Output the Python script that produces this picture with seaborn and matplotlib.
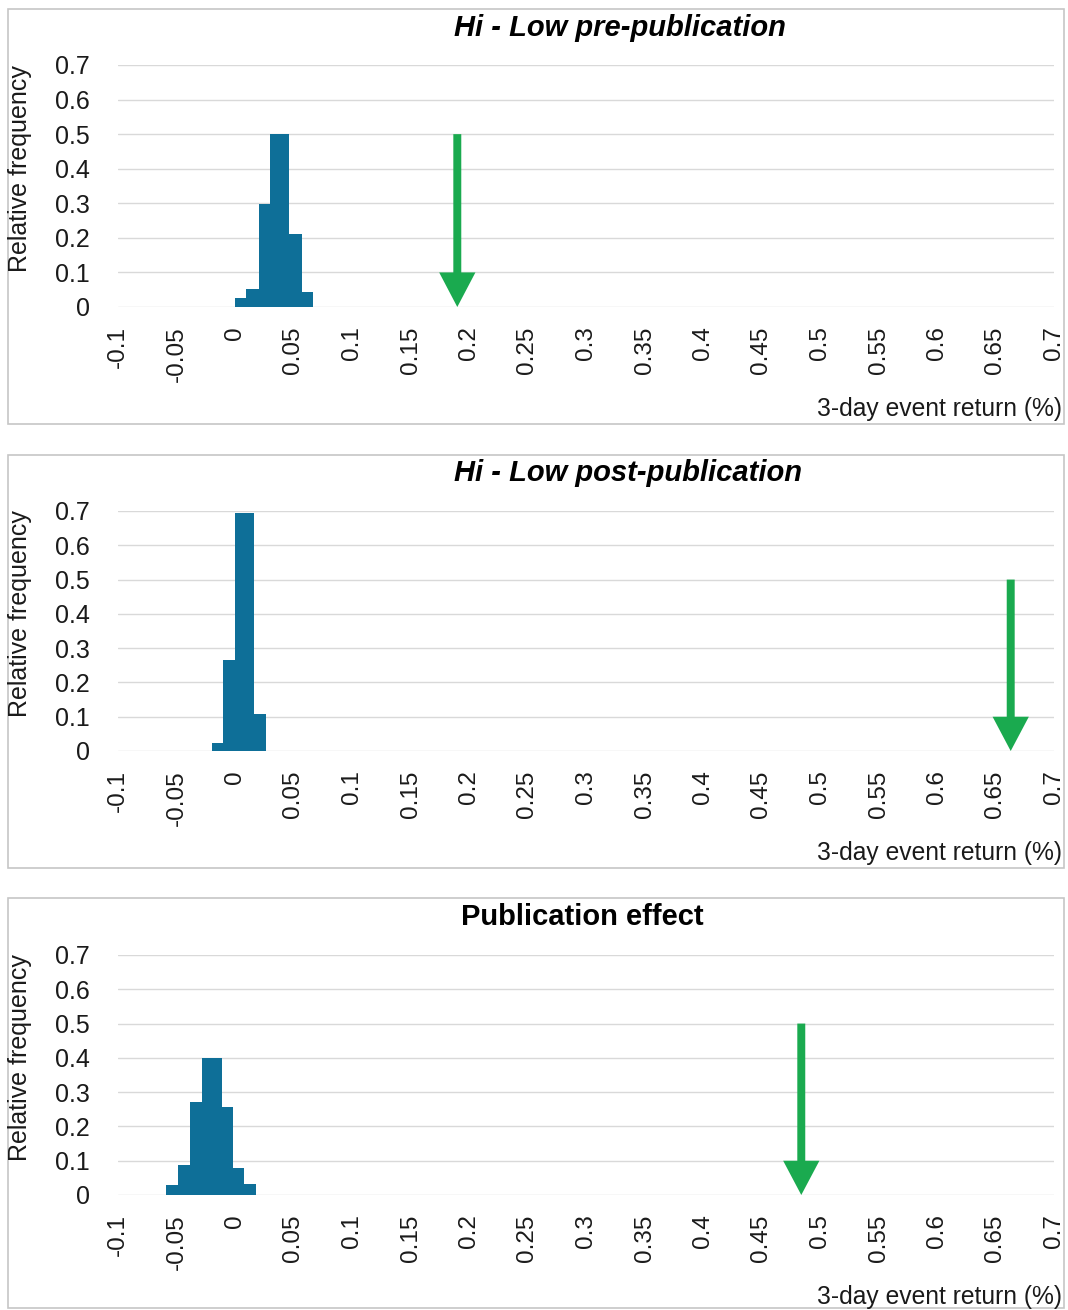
import numpy as np
import pandas as pd
import matplotlib
matplotlib.use("Agg")
import matplotlib.pyplot as plt
import seaborn as sns
from matplotlib.patches import Rectangle

# ---------------- data ----------------
titles = ["Hi - Low pre-publication", "Hi - Low post-publication", "Publication effect"]
title_italic = [True, True, False]

p1_edges = [0.0, 0.0094, 0.0205, 0.030, 0.0462, 0.057, 0.0667]
p1_freq = [0.026, 0.052, 0.298, 0.50, 0.211, 0.043]

p2_edges = [-0.0197, -0.0103, 0.0, 0.016, 0.0265]
p2_freq = [0.023, 0.265, 0.694, 0.108]

p3_edges = [-0.059, -0.0487, -0.0385, -0.028, -0.011, -0.0017, 0.0077, 0.018]
p3_freq = [0.029, 0.087, 0.27, 0.40, 0.257, 0.079, 0.032]

actual_returns = [0.19, 0.663, 0.484]
arrow_top = 0.5

x_ticks = [-0.1, -0.05, 0, 0.05, 0.1, 0.15, 0.2, 0.25, 0.3, 0.35, 0.4, 0.45, 0.5, 0.55, 0.6, 0.65, 0.7]
x_tick_labels = ["-0.1", "-0.05", "0", "0.05", "0.1", "0.15", "0.2", "0.25", "0.3", "0.35",
                 "0.4", "0.45", "0.5", "0.55", "0.6", "0.65", "0.7"]
y_ticks = [0, 0.1, 0.2, 0.3, 0.4, 0.5, 0.6, 0.7]
y_tick_labels = ["0", "0.1", "0.2", "0.3", "0.4", "0.5", "0.6", "0.7"]

y_label = "Relative frequency"
x_label = "3-day event return (%)"

panels = [(p1_edges, p1_freq), (p2_edges, p2_freq), (p3_edges, p3_freq)]

# ---------------- style ----------------
sns.set_theme(style="white")
plt.rcParams['font.family'] = ['Liberation Sans', 'DejaVu Sans']

W, H = 1068, 1310
fig = plt.figure(figsize=(W / 100, H / 100), dpi=100)

bar_color = "#0E6F98"
arrow_color = "#1AAA4F"
grid_color = "#D9D9D9"
frame_color = "#C6C6C6"
text_color = "#1A1A1A"

frames = [(8, 9, 1064, 424), (8, 455, 1064, 868), (8, 898, 1064, 1308)]
plot_tops = [65, 511, 955]
plot_bottoms = [307, 751, 1195]
plot_left, plot_right = 118, 1054
title_pos = [(620, 36), (628, 481), (582, 925)]
xlabel_base = [416, 860, 1304]

for i, ((edges, freq), frame) in enumerate(zip(panels, frames)):
    fx0, fy0, fx1, fy1 = frame
    fig.patches.append(Rectangle((fx0 / W, 1 - fy1 / H), (fx1 - fx0) / W, (fy1 - fy0) / H,
                                 transform=fig.transFigure, fill=False,
                                 edgecolor=frame_color, linewidth=1.2))
    top, bot = plot_tops[i], plot_bottoms[i]
    ax = fig.add_axes([plot_left / W, 1 - bot / H, (plot_right - plot_left) / W, (bot - top) / H])
    edges_arr = np.array(edges)
    centers = (edges_arr[:-1] + edges_arr[1:]) / 2
    df = pd.DataFrame({"ret": centers, "freq": freq})
    sns.histplot(data=df, x="ret", weights="freq", bins=edges, ax=ax, color=bar_color,
                 alpha=1, linewidth=0, edgecolor=bar_color, stat="count")
    ax.arrow(actual_returns[i], arrow_top, 0, -arrow_top, width=0.0068, head_width=0.031,
             head_length=0.1, length_includes_head=True, color=arrow_color, linewidth=0, zorder=5)
    ax.set_xlim(-0.1, 0.7)
    ax.set_ylim(0, 0.7)
    ax.set_xticks(x_ticks)
    ax.set_xticklabels(x_tick_labels, rotation=90, fontsize=17.5, color=text_color)
    ax.set_yticks(y_ticks)
    ax.set_yticklabels(y_tick_labels, fontsize=18, color=text_color)
    ax.tick_params(axis='y', length=0, pad=20)
    ax.tick_params(axis='x', length=0, pad=14)
    ax.set_xlabel("")
    ax.set_ylabel("")
    ax.yaxis.grid(True, color=grid_color, linewidth=1)
    ax.xaxis.grid(False)
    ax.set_axisbelow(True)
    for s in ax.spines.values():
        s.set_visible(False)
    ax.patch.set_alpha(0)

    tx, ty = title_pos[i]
    fig.text(tx / W, 1 - ty / H, titles[i], ha='center', va='baseline', fontsize=21,
             fontweight='bold', style='italic' if title_italic[i] else 'normal',
             family=['Liberation Sans Narrow', 'Liberation Sans', 'DejaVu Sans'], color='black')
    fig.text(20 / W, 1 - ((top + bot - 35) / 2) / H, y_label, rotation=90, ha='center', va='center',
             fontsize=18, color=text_color)
    fig.text(1062 / W, 1 - xlabel_base[i] / H, x_label, ha='right', va='baseline',
             fontsize=17.7, color=text_color)

fig.savefig("out.png", dpi=100, facecolor="white")
